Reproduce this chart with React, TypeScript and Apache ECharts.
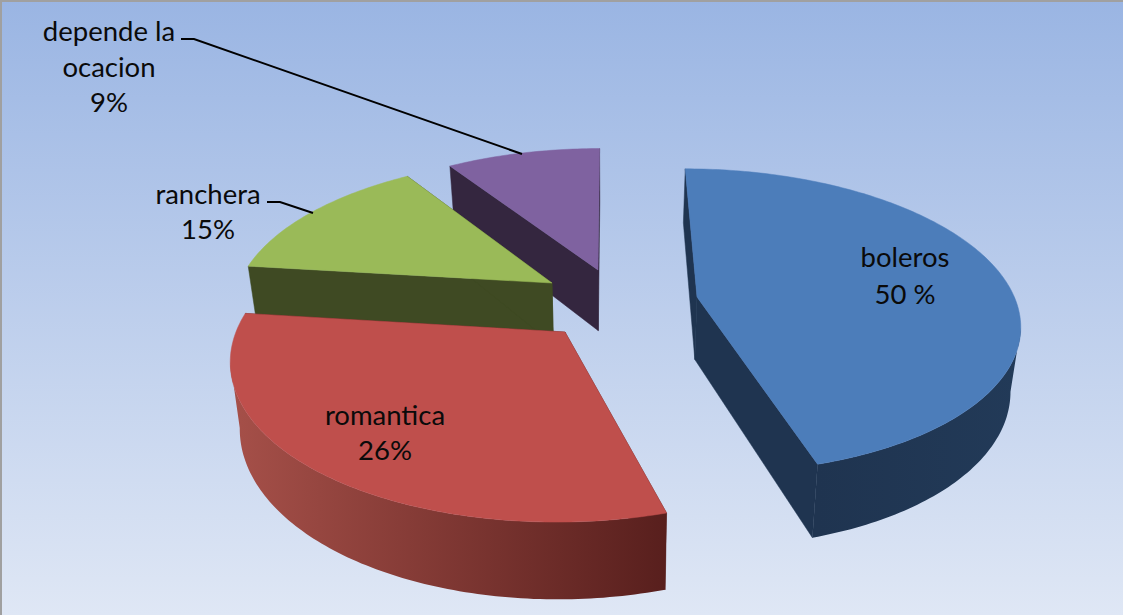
import React, { useEffect, useRef } from "react";
import * as echarts from "echarts";

// Category names and the percentages printed on the chart.
const categories = ["boleros", "romantica", "ranchera", "depende la ocacion"];
const printedLabels = ["50 %", "26%", "15%", "9%"];
const sliceShares = [45.45, 31.45, 13.9, 9.2];

const topColors = ["#4c7dba", "#bf4f4c", "#9aba58", "#7f62a0"];
const wallColors = ["#1f3450", "#5a2220", "#3f4a23", "#34263f"];
const rimFrom = ["#1f3450", "#a65049", "#3f4a23", "#34263f"];
const rimTo = ["#223a58", "#581f1d", "#3f4a23", "#34263f"];
// Screen position of each exploded slice's apex.
const apexX = [697, 565, 552, 598];
const apexY = [297, 332, 283, 270];
const drawOrder = [3, 2, 1, 0];

const X0 = 610, Y0 = 290, F = 315, G = 146, P = 0.155, DROP = 62, SHRINK = 0.025;

const project = (x: number, y: number) => {
  const w = 1 - P * y;
  return [X0 + (F * x) / w, Y0 + (G * y) / w, w];
};
const bottomOf = (p: number[]) => [X0 + (p[0] - X0) * (1 - SHRINK), p[1] + DROP / p[2]];

const renderSlice = (_: any, api: any) => {
  const i = api.value(0);
  const total = sliceShares.reduce((a, b) => a + b, 0);
  const before = sliceShares.slice(0, i).reduce((a, b) => a + b, 0);
  const a0 = (before / total) * Math.PI * 2;
  const a1 = a0 + (api.value(1) / total) * Math.PI * 2;
  const v = (apexY[i] - Y0) / G;
  const u = (apexX[i] - X0) / F;
  const cy = v / (1 + P * v);
  const cx = u / (1 + P * v);
  const arc: number[][] = [];
  const steps = Math.max(8, Math.round((a1 - a0) * 60));
  for (let s = 0; s <= steps; s++) {
    const t = a0 + ((a1 - a0) * s) / steps;
    arc.push(project(cx + Math.sin(t), cy - Math.cos(t)));
  }
  const apex = project(cx, cy);
  const bArc = arc.map(bottomOf);
  const bApex = bottomOf(apex);
  const xy = (p: number[]) => [p[0], p[1]];
  const first = arc[0], last = arc[arc.length - 1];
  // Only the part of the rim that runs leftwards while going clockwise faces the viewer.
  const front = arc.map((_p, s) => s).filter((s) =>
    (s < arc.length - 1 && arc[s + 1][0] < arc[s][0]) || (s > 0 && arc[s][0] < arc[s - 1][0]));
  const frontTop = front.map((s) => arc[s]);
  const frontBottom = front.map((s) => bArc[s]);
  const xs = frontTop.map((p) => p[0]);
  const poly = (pts: number[][], fill: any, stroke: any = fill) => ({
    type: "polygon",
    shape: { points: pts.map(xy) },
    style: { fill, stroke, lineWidth: 0.5 },
  });
  const children: any[] = [
    poly([xy(apex), xy(first), xy(bArc[0]), xy(bApex)], wallColors[i]),
    poly([xy(apex), xy(last), xy(bArc[bArc.length - 1]), xy(bApex)], wallColors[i]),
  ];
  if (front.length > 1) {
    const rimFill = {
      type: "linear", global: true,
      x: Math.min(...xs), y: 0, x2: Math.max(...xs), y2: 0,
      colorStops: [{ offset: 0, color: rimFrom[i] }, { offset: 1, color: rimTo[i] }],
    };
    children.push(poly([...frontTop, ...frontBottom.reverse()], rimFill, "none"));
  }
  children.push(poly([apex, ...arc], topColors[i]));
  return { type: "group", children };
};

const FONT = "Lato, 'Open Sans', sans-serif";
const label = (lines: string[], x: number, ys: number[]) =>
  lines.map((t, n) => ({
    type: "text", z: 100, x, y: ys[n],
    style: { text: t, fill: "#0a0a0a", font: `27.5px ${FONT}`, textAlign: "center", textVerticalAlign: "middle" },
  }));
const leader = (pts: number[][]) => ({
  type: "polyline", z: 100, shape: { points: pts },
  style: { stroke: "#000", lineWidth: 2, fill: "none" },
});

export default function App() {
  const ref = useRef<HTMLDivElement>(null);
  useEffect(() => {
    const chart = echarts.init(ref.current!, undefined, { renderer: "svg" });
    chart.setOption({
      animation: false,
      backgroundColor: {
        type: "linear", x: 0, y: 0, x2: 0, y2: 1,
        colorStops: [{ offset: 0, color: "#9ab5e3" }, { offset: 1, color: "#dfe7f5" }],
      },
      series: [{
        type: "custom",
        coordinateSystem: "none",
        renderItem: renderSlice,
        data: drawOrder.map((i) => [i, sliceShares[i]]),
      }],
      graphic: [
        { type: "rect", z: 100, shape: { x: 0, y: 0, width: 1123, height: 2 }, style: { fill: "#a0a0a0" } },
        { type: "rect", z: 100, shape: { x: 0, y: 0, width: 2, height: 615 }, style: { fill: "#a0a0a0" } },
        ...label([categories[0], printedLabels[0]], 905, [256, 293]),
        ...label([categories[1], printedLabels[1]], 385, [414, 449]),
        ...label([categories[2], printedLabels[2]], 208, [193, 228]),
        ...label(["depende la", "ocacion", printedLabels[3]], 109, [30, 66, 101]),
        leader([[181, 39], [194, 39], [522, 154]]),
        leader([[267, 202], [280, 202], [313, 213]]),
      ],
    });
    return () => chart.dispose();
  }, []);
  return <div ref={ref} style={{ position: "fixed", left: 0, top: 0, width: 1123, height: 615 }} />;
}
